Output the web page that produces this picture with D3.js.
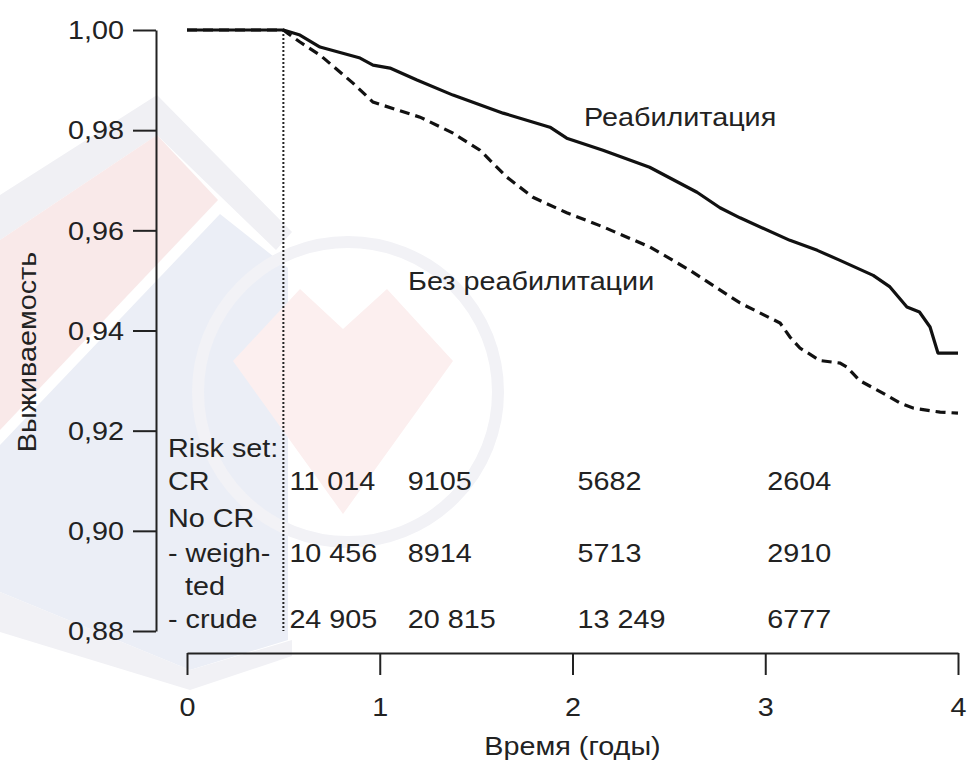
<!DOCTYPE html>
<html>
<head>
<meta charset="utf-8">
<script src="https://cdn.jsdelivr.net/npm/d3@7"></script>
<style>
  html, body { margin: 0; padding: 0; background: #fff; }
  svg { display: block; }
  text { font-family: "Liberation Sans", Arial, Helvetica, sans-serif; fill: #222; }
</style>
</head>
<body>
<svg id="chart" width="970" height="762"></svg>
<script>
// Survival axis ticks and time axis ticks
const survTicks = [0.88, 0.90, 0.92, 0.94, 0.96, 0.98, 1.00];
const yearTicks = [0, 1, 2, 3, 4];

// Rehabilitation group (solid line): time in years, survival
const rehabTime = [0, 0.5, 0.586, 0.69, 0.898, 0.965, 1.053, 1.193, 1.38, 1.64, 1.883, 1.97, 2.158, 2.40, 2.646, 2.765, 2.869, 3.128, 3.27, 3.388, 3.56, 3.647, 3.735, 3.80, 3.855, 3.896, 4.0];
const rehabSurv = [1.000, 1.000, 0.999, 0.9966, 0.9944, 0.993, 0.9924, 0.990, 0.987, 0.9834, 0.9806, 0.9784, 0.976, 0.9726, 0.9676, 0.9645, 0.9625, 0.958, 0.956, 0.954, 0.951, 0.9487, 0.9447, 0.9437, 0.9407, 0.9355, 0.9355];

// No rehabilitation group (dashed line)
const noRehabTime = [0, 0.5, 0.52, 0.586, 0.69, 0.861, 0.965, 1.209, 1.38, 1.52, 1.66, 1.795, 1.97, 2.158, 2.40, 2.61, 2.869, 3.077, 3.128, 3.18, 3.284, 3.388, 3.424, 3.49, 3.61, 3.70, 3.77, 3.907, 4.0];
const noRehabSurv = [1.000, 1.000, 0.9994, 0.9976, 0.995, 0.9894, 0.9856, 0.9826, 0.9794, 0.976, 0.9706, 0.9666, 0.9635, 0.9607, 0.9567, 0.952, 0.9455, 0.9415, 0.9387, 0.9365, 0.934, 0.9335, 0.9327, 0.930, 0.9275, 0.9255, 0.9245, 0.9237, 0.9235];

// Numbers at risk
const riskTimes = [0.5, 1, 2, 3];
const riskRowLabels = ["Risk set:", "CR", "No CR", "- weigh-", "ted", "- crude"];
const riskCR = ["11 014", "9105", "5682", "2604"];
const riskWeighted = ["10 456", "8914", "5713", "2910"];
const riskCrude = ["24 905", "20 815", "13 249", "6777"];

const svg = d3.select("#chart");
const FS = 25;          // font size
const SX = 1.15;        // horizontal text widening

const x = d3.scaleLinear().domain([0, 4]).range([187, 958]);
const y = d3.scaleLinear().domain([0.88, 1.00]).range([631, 30]);

// ---- faint background emblem ----
const bg = svg.append("g").attr("class", "emblem");
const poly = pts => "M" + pts.map(p => p.join(",")).join("L") + "Z";
bg.append("path").attr("d", poly([[0,592],[0,445],[220,214],[288,268],[288,640],[190,670]])).attr("fill", "#ebeef6");
bg.append("path").attr("d", poly([[0,592],[190,670],[292,640],[292,656],[190,690],[0,632]])).attr("fill", "#f1f1f5");
bg.append("path").attr("d", poly([[0,195],[157,95],[292,232],[276,250],[157,135],[0,240]])).attr("fill", "#f0f0f4");
bg.append("path").attr("d", poly([[0,240],[157,135],[218,200],[0,430]])).attr("fill", "#f9e9e9");
bg.append("circle").attr("cx", 348).attr("cy", 392).attr("r", 150)
  .attr("fill", "none").attr("stroke", "#f2f2f6").attr("stroke-width", 12);
bg.append("path").attr("d", poly([[233,361],[300,289],[343,329],[387,289],[453,361],[343,514]])).attr("fill", "#fcefef");

// ---- axes ----
const fmt = d => d3.format(".2f")(d).replace(".", ",");
const yAxis = svg.append("g")
  .attr("transform", "translate(156,0)")
  .call(d3.axisLeft(y).tickValues(survTicks).tickSize(23).tickSizeOuter(0).tickFormat(fmt));
yAxis.selectAll("text")
  .attr("x", -32 / SX).attr("dy", "0.35em")
  .attr("transform", `scale(${SX},1)`)
  .style("font-size", FS + "px");

const xAxis = svg.append("g")
  .attr("transform", "translate(0,653)")
  .call(d3.axisBottom(x).tickValues(yearTicks).tickSize(22).tickSizeOuter(0).tickFormat(d3.format("d")));
xAxis.selectAll("text")
  .attr("y", 63).attr("dy", 0)
  .attr("transform", `scale(${SX},1)`)
  .style("font-size", FS + "px");

[yAxis, xAxis].forEach(g => {
  g.selectAll("path.domain, .tick line").attr("stroke", "#222").attr("stroke-width", 2);
  g.attr("font-family", null).attr("font-size", null);
  g.selectAll("text").attr("fill", "#222");
});

// ---- axis titles ----
svg.append("text")
  .attr("transform", `translate(36,352) rotate(-90) scale(${SX},1)`)
  .attr("text-anchor", "middle")
  .style("font-size", FS + "px")
  .text("Выживаемость");

svg.append("text")
  .attr("transform", `translate(${x(2)},755) scale(${SX},1)`)
  .attr("text-anchor", "middle")
  .style("font-size", FS + "px")
  .text("Время (годы)");

// ---- start of follow-up marker ----
svg.append("line")
  .attr("x1", x(0.5)).attr("x2", x(0.5))
  .attr("y1", y(1.0)).attr("y2", y(0.88))
  .attr("stroke", "#222").attr("stroke-width", 2)
  .attr("stroke-dasharray", "2,2");

// ---- survival curves ----
const line = d3.line().x(d => x(d[0])).y(d => y(d[1]));
const noRehab = noRehabTime.map((t, i) => [t, noRehabSurv[i]]);
const rehab = rehabTime.map((t, i) => [t, rehabSurv[i]]);

svg.append("path").datum(noRehab)
  .attr("d", line).attr("fill", "none")
  .attr("stroke", "#111").attr("stroke-width", 3.2)
  .attr("stroke-dasharray", "10,6");

svg.append("path").datum(rehab)
  .attr("d", line).attr("fill", "none")
  .attr("stroke", "#111").attr("stroke-width", 3.2)
  .attr("stroke-linejoin", "round");

// ---- curve labels ----
function label(tx, ty, str) {
  svg.append("text")
    .attr("transform", `translate(${tx},${ty}) scale(${SX},1)`)
    .style("font-size", FS + "px")
    .text(str);
}
label(x(2.06), y(0.9808), "Реабилитация");
label(x(1.147), y(0.948), "Без реабилитации");

// ---- numbers at risk table ----
const rowBase = [457, 490, 527, 562, 595, 628];
const rowIndent = [0, 0, 0, 0, 17, 0];
riskRowLabels.forEach((s, i) => {
  svg.append("text")
    .attr("transform", `translate(${168 + rowIndent[i]},${rowBase[i]}) scale(${SX},1)`)
    .style("font-size", FS + "px")
    .text(s);
});
const colNudge = [6, 28, 5, 2];
[[riskCR, rowBase[1]], [riskWeighted, rowBase[3]], [riskCrude, rowBase[5]]].forEach(([vals, by]) => {
  vals.forEach((v, j) => {
    svg.append("text")
      .attr("transform", `translate(${x(riskTimes[j]) + colNudge[j]},${by}) scale(${SX},1)`)
      .style("font-size", FS + "px")
      .text(v);
  });
});
</script>
</body>
</html>
